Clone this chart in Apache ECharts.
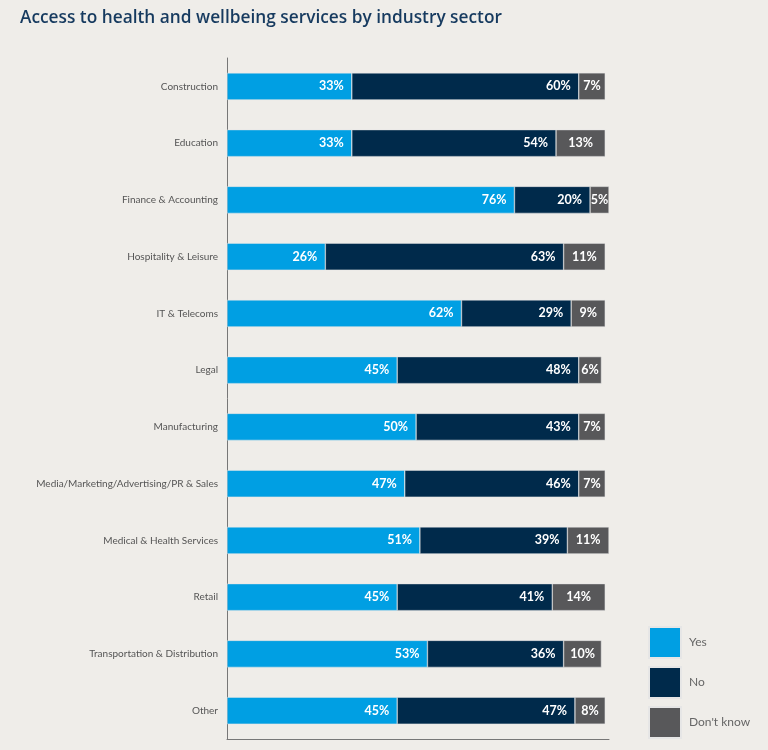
<!DOCTYPE html>
<html>
<head>
<meta charset="utf-8">
<script src="https://cdn.jsdelivr.net/npm/echarts@6/dist/echarts.min.js"></script>
<style>
html,body{margin:0;padding:0;background:#efede9;}
#chart{width:768px;height:750px;}
</style>
</head>
<body>
<div id="chart"></div>
<script>
const categories = ["Construction","Education","Finance & Accounting","Hospitality & Leisure","IT & Telecoms","Legal","Manufacturing","Media/Marketing/Advertising/PR & Sales","Medical & Health Services","Retail","Transportation & Distribution","Other"];
const yesValues = [33,33,76,26,62,45,50,47,51,45,53,45];
const noValues = [60,54,20,63,29,48,43,46,39,41,36,47];
const dontKnowValues = [7,13,5,11,9,6,7,7,11,14,10,8];
const seriesNames = ["Yes","No","Don't know"];
const colors = ["#009fe3","#002a4b","#58585a"];

const chart = echarts.init(document.getElementById('chart'));
const labelBase = {show:true,color:'#ffffff',fontWeight:'bold',fontSize:12.5,fontFamily:'Lato',formatter:p=>p.value+'%'};
function mk(name,data,color,pos){
  return {name:name,type:'bar',stack:'s',data:data,barWidth:27,
    itemStyle:{color:color,borderColor:'#e6e6e6',borderWidth:0.5},
    label:Object.assign({},labelBase,pos),
    emphasis:{disabled:true}};
}
chart.setOption({
  backgroundColor:'#efede9',
  animation:false,
  title:{text:'Access to health and wellbeing services by industry sector',left:15,top:5,
    textStyle:{fontFamily:'Open Sans',fontWeight:600,fontSize:17.3,color:'#163a5f'}},
  grid:{left:227,top:58,width:382,height:681,containLabel:false},
  xAxis:{type:'value',min:0,max:101,show:true,axisLine:{show:true,lineStyle:{color:'#777',width:1}},axisTick:{show:false},axisLabel:{show:false},splitLine:{show:false}},
  yAxis:{type:'category',data:categories,inverse:true,
    axisLine:{show:true,lineStyle:{color:'#777',width:1}},axisTick:{show:false},
    axisLabel:{margin:9,fontSize:10,fontFamily:'Lato',color:'#555'}},
  legend:{orient:'vertical',left:648,top:626,padding:0,height:123,itemWidth:32,itemHeight:31,itemGap:7,
    icon:'rect',data:seriesNames,
    textStyle:{fontFamily:'Lato',fontSize:12,color:'#666',padding:[0,0,0,3]}},
  series:[
    mk(seriesNames[0],yesValues,colors[0],{position:'insideRight',distance:8}),
    mk(seriesNames[1],noValues,colors[1],{position:'insideRight',distance:8}),
    mk(seriesNames[2],dontKnowValues,colors[2],{position:'inside'})
  ]
});
</script>
</body>
</html>
